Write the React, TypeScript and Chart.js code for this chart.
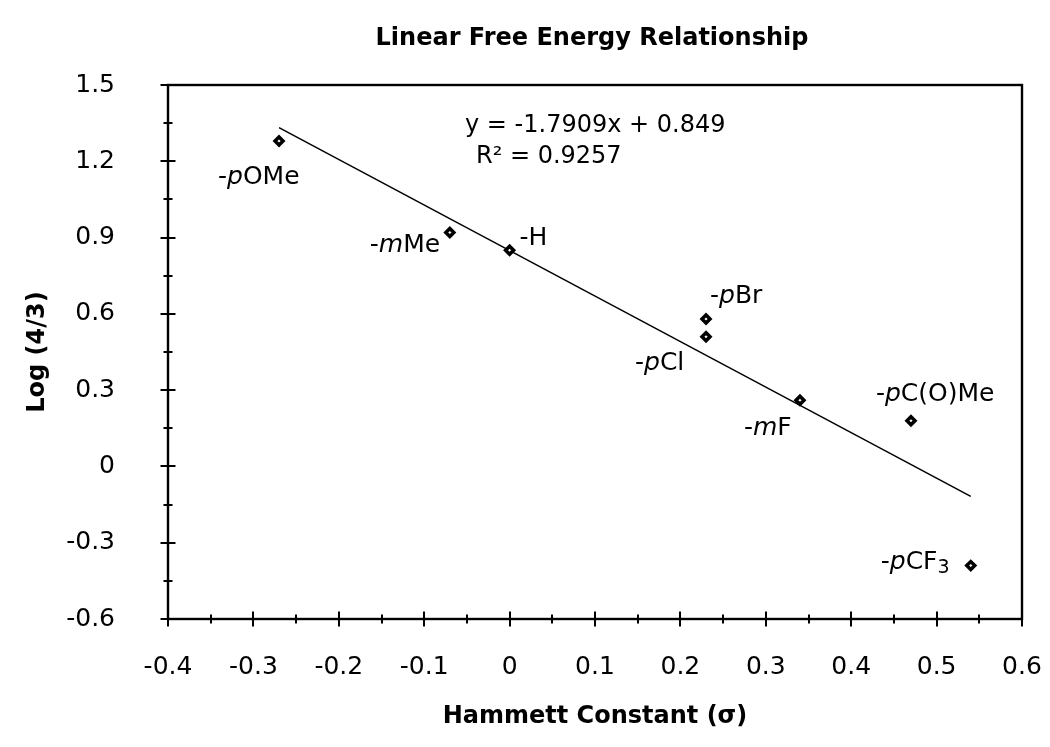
import React, { useEffect, useRef } from 'react';
import { Chart, registerables } from 'chart.js';

Chart.register(...registerables);

// ---- data ----
const substituentLabels = ['-*p*OMe', '-*m*Me', '-H', '-*p*Br', '-*p*Cl', '-*m*F', '-*p*C(O)Me', '-*p*CF_3'];
const hammettSigma = [-0.27, -0.07, 0.0, 0.23, 0.23, 0.34, 0.47, 0.54];
const logRatio = [1.28, 0.92, 0.85, 0.58, 0.51, 0.26, 0.18, -0.39];
const trendSlope = -1.7909;
const trendIntercept = 0.849;
const trendXRange = [-0.27, 0.54];
const equationLines = ['y = -1.7909x + 0.849', 'R² = 0.9257'];
const chartTitle = 'Linear Free Energy Relationship';
const xAxisTitle = 'Hammett Constant (σ)';
const yAxisTitle = 'Log (4/3)';

// ---- label placement (pixel offsets from each point) ----
const labelOffsets = [[-61, 43], [-80, 20], [10, -5], [4, -16], [-71, 33], [-56, 35], [-35, -20], [-90, 3]];

const FONT = "'DejaVu Sans', sans-serif";
const LABEL_SIZE = 25;

function drawRichLabel(ctx: CanvasRenderingContext2D, text: string, x: number, y: number) {
  let italic = false;
  let cx = x;
  let i = 0;
  while (i < text.length) {
    const ch = text[i];
    if (ch === '*') { italic = !italic; i++; continue; }
    if (ch === '_') {
      const sub = text[i + 1];
      ctx.font = `${Math.round(LABEL_SIZE * 0.75)}px ${FONT}`;
      ctx.fillText(sub, cx, y + 4);
      cx += ctx.measureText(sub).width;
      i += 2;
      continue;
    }
    ctx.font = `${italic ? 'italic ' : ''}${LABEL_SIZE}px ${FONT}`;
    ctx.fillText(ch, cx, y);
    cx += ctx.measureText(ch).width;
    i++;
  }
}

const decorPlugin = {
  id: 'decor',
  beforeDatasetsDraw(chart: any) {
    const { ctx, chartArea: a, scales } = chart;
    ctx.save();
    ctx.strokeStyle = '#000';
    ctx.lineWidth = 2.4;
    ctx.strokeRect(a.left, a.top, a.right - a.left, a.bottom - a.top);
    ctx.lineWidth = 2;
    const xs = scales.x;
    const ys = scales.y;
    for (let k = 0; k <= 20; k++) {
      const v = -0.4 + k * 0.05;
      const major = k % 2 === 0;
      const px = Math.round(xs.getPixelForValue(v));
      const h = major ? 7.5 : 4.5;
      ctx.beginPath();
      ctx.moveTo(px, a.bottom - h);
      ctx.lineTo(px, a.bottom + h);
      ctx.stroke();
    }
    for (let k = 0; k <= 14; k++) {
      const v = -0.6 + k * 0.15;
      const major = k % 2 === 0;
      const py = Math.round(ys.getPixelForValue(v));
      const w = major ? 7.5 : 4.5;
      ctx.beginPath();
      ctx.moveTo(a.left - w, py);
      ctx.lineTo(a.left + w, py);
      ctx.stroke();
    }
    ctx.restore();
  },
  afterDatasetsDraw(chart: any) {
    const { ctx, chartArea: a, scales } = chart;
    ctx.save();
    ctx.fillStyle = '#000';
    ctx.textBaseline = 'alphabetic';
    ctx.textAlign = 'left';
    substituentLabels.forEach((lab, i) => {
      const px = scales.x.getPixelForValue(hammettSigma[i]);
      const py = scales.y.getPixelForValue(logRatio[i]);
      drawRichLabel(ctx, lab, px + labelOffsets[i][0], py + labelOffsets[i][1]);
    });
    ctx.font = `24px ${FONT}`;
    ctx.fillText(equationLines[0], a.left + 297, a.top + 47);
    ctx.fillText(equationLines[1], a.left + 308, a.top + 78);
    ctx.font = `bold 24px ${FONT}`;
    ctx.textAlign = 'center';
    ctx.fillText(chartTitle, (a.left + a.right) / 2 - 3, 45);
    ctx.restore();
  },
};

const fmt = (v: any) => {
  const n = Number(Number(v).toFixed(1));
  return (n === 0 ? 0 : n).toString();
};

export default function App() {
  const ref = useRef<HTMLCanvasElement>(null);
  useEffect(() => {
    const trendData = trendXRange.map((x) => ({ x, y: trendSlope * x + trendIntercept }));
    const chart = new Chart(ref.current!, {
      type: 'scatter',
      data: {
        datasets: [
          {
            label: 'trend',
            data: trendData,
            showLine: true,
            borderColor: '#000',
            borderWidth: 1.5,
            pointRadius: 0,
            order: 2,
          },
          {
            label: 'data',
            data: hammettSigma.map((x, i) => ({ x, y: logRatio[i] })),
            pointStyle: 'rectRot',
            pointRadius: 4,
            backgroundColor: '#fff',
            borderColor: '#000',
            borderWidth: 3.5,
            order: 1,
          },
        ],
      },
      options: {
        responsive: false,
        animation: false,
        layout: { padding: { left: 0, top: 85, right: 28, bottom: 0 } },
        plugins: { legend: { display: false }, tooltip: { enabled: false }, title: { display: false } },
        scales: {
          x: {
            type: 'linear',
            min: -0.4,
            max: 0.6,
            grid: { display: false, drawTicks: false },
            border: { display: false },
            ticks: { stepSize: 0.1, padding: 33, color: '#000', font: { family: FONT, size: 25 }, callback: fmt, maxRotation: 0 },
            title: { display: true, text: xAxisTitle, color: '#000', font: { family: FONT, size: 24, weight: 'bold' }, padding: { top: 0, bottom: 16 } },
            afterFit: (s: any) => { s.height = 128; s.paddingLeft = 0; s.paddingRight = 0; },
          },
          y: {
            type: 'linear',
            min: -0.6,
            max: 1.5,
            grid: { display: false, drawTicks: false },
            border: { display: false },
            ticks: { stepSize: 0.3, padding: 53, color: '#000', font: { family: FONT, size: 25 }, callback: fmt },
            title: { display: true, text: yAxisTitle, color: '#000', font: { family: FONT, size: 24, weight: 'bold' }, padding: { top: 23, bottom: 0 } },
            afterFit: (s: any) => { s.width = 168; s.paddingTop = 0; s.paddingBottom = 0; },
          },
        },
      },
      plugins: [decorPlugin],
    });
    return () => chart.destroy();
  }, []);
  return (
    <div style={{ position: 'absolute', left: 0, top: 0, width: 1050, height: 747, background: '#fff' }}>
      <canvas ref={ref} width={1050} height={747} />
    </div>
  );
}
